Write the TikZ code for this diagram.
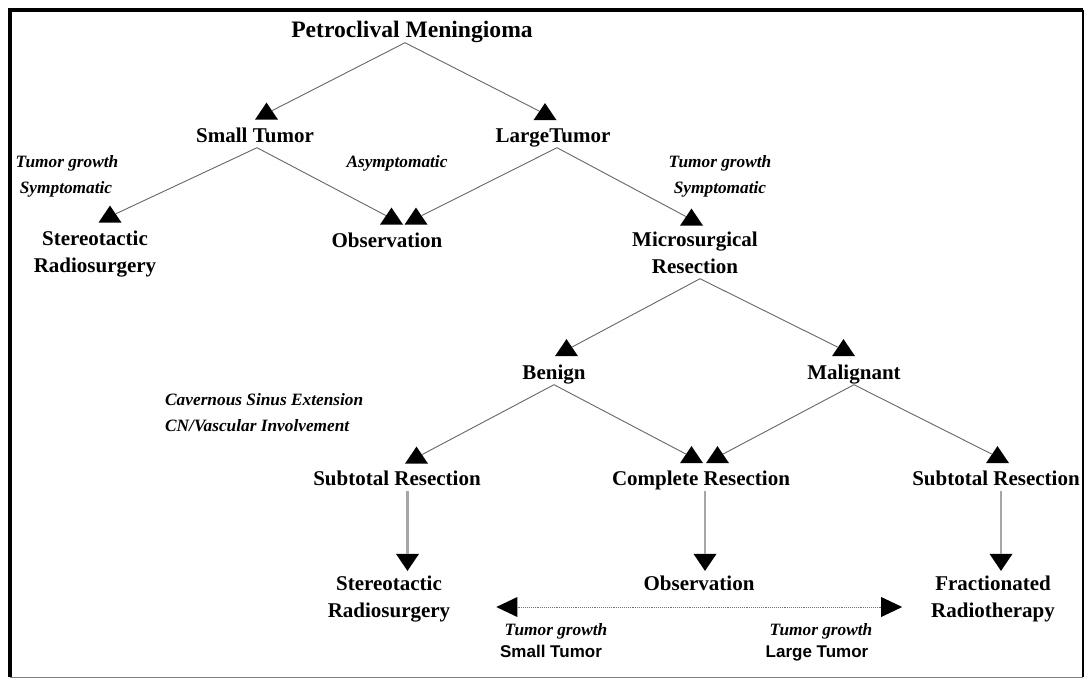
\documentclass[tikz,border=0pt]{standalone}
\usepackage{fontspec}
\setmainfont{Liberation Serif}
\setsansfont{Liberation Sans}
\usetikzlibrary{shapes.geometric}
\begin{document}
\begin{tikzpicture}[x=1pt,y=-1pt,
  box/.style={font=\bfseries\fontsize{21}{27}\selectfont, inner sep=0pt, anchor=base, text depth=5.5pt, align=center},
  title/.style={box, font=\bfseries\fontsize{23.6}{28}\selectfont},
  note/.style={font=\bfseries\itshape\fontsize{17.3}{20}\selectfont, inner sep=0pt, anchor=base},
  snote/.style={font=\sffamily\bfseries\fontsize{17}{20}\selectfont, inner sep=0pt, anchor=base},
  tri/.style={isosceles triangle, isosceles triangle stretches, fill=black, draw=none, inner sep=0pt, minimum width=23pt, minimum height=17pt},
  up/.style={tri, shape border rotate=90},
  dn/.style={tri, shape border rotate=270},
  lt/.style={tri, shape border rotate=180, minimum width=20pt, minimum height=21pt},
  rt/.style={tri, shape border rotate=0, minimum width=20pt, minimum height=21pt},
  con/.style={draw=black!60, line width=0.9pt},
  vcon/.style={draw=black!35, line width=2.6pt},
  hcon/.style={draw=black!55, line width=0.9pt, densely dotted}
]
\useasboundingbox (0,0) rectangle (1085,678);
% frame
\draw[line width=3.5pt] (10,677) -- (10,10) -- (1083,10);
\draw[line width=1.2pt] (1083,10) -- (1083,677);
\draw[black!50, line width=0.8pt] (10,677) -- (1083,677);

% main nodes
\node[title] (petro) at (412,37) {Petroclival Meningioma};
\node[box] (small) at (255,142) {Small Tumor};
\node[box] (large) at (553,142) {LargeTumor};
\node[box] (stereoT) at (95,272) {Stereotactic\\Radiosurgery};
\node[box] (obsT) at (387,247) {Observation};
\node[box] (micro) at (695,273) {Microsurgical\\Resection};
\node[box] (benign) at (554,379) {Benign};
\node[box] (malig) at (854,379) {Malignant};
\node[box] (subL) at (397,485) {Subtotal Resection};
\node[box] (compl) at (701,485) {Complete Resection};
\node[box] (subR) at (996,485) {Subtotal Resection};
\node[box] (stereoB) at (389,617) {Stereotactic\\Radiosurgery};
\node[box] (obsB) at (699,590) {Observation};
\node[box] (frac) at (993,617) {Fractionated\\Radiotherapy};

% notes
\node[note] (n1) at (67,167) {Tumor growth};
\node[note] (n2) at (66,193) {Symptomatic};
\node[note] (n3) at (397,167) {Asymptomatic};
\node[note] (n4) at (720,167) {Tumor growth};
\node[note] (n5) at (720,193) {Symptomatic};
\node[note, anchor=base west] (n6) at (165,405) {Cavernous Sinus Extension};
\node[note, anchor=base west] (n7) at (165,431) {CN/Vascular Involvement};
\node[note] (n8) at (556,635) {Tumor growth};
\node[snote] (n9) at (551,657) {Small Tumor};
\node[note] (n10) at (821,635) {Tumor growth};
\node[snote] (n11) at (817,657) {Large Tumor};

% triangles
\node[up] (tSmall) at (266.5,113.5) {};
\node[up] (tLarge) at (545,114) {};
\node[up] (tStereoT) at (110,216.5) {};
\node[up] (tObs1) at (391.5,218.5) {};
\node[up] (tObs2) at (416,218.5) {};
\node[up] (tMicro) at (691.5,219.5) {};
\node[up] (tBenign) at (566.5,350) {};
\node[up] (tMalig) at (843.5,350) {};
\node[up] (tSubL) at (416.5,457.5) {};
\node[up] (tComp1) at (691.5,457) {};
\node[up] (tComp2) at (717.5,457) {};
\node[up] (tSubR) at (997.5,457) {};
\node[dn] (tStereoB) at (407.5,560) {};
\node[dn] (tObsB) at (705,560) {};
\node[dn] (tFrac) at (1001,560) {};
\node[lt] (tLeft) at (511,607) {};
\node[rt] (tRight) at (887.5,607) {};

% connectors
\draw[con] ([xshift=-7pt]petro.south) -- (tSmall);
\draw[con] ([xshift=-7pt]petro.south) -- (tLarge);
\draw[con] ([xshift=2pt]small.south) -- (tStereoT);
\draw[con] ([xshift=2pt]small.south) -- (tObs1);
\draw[con] ([xshift=4pt]large.south) -- (tObs2);
\draw[con] ([xshift=4pt]large.south) -- (tMicro);
\draw[con] ([xshift=5pt]micro.south) -- (tBenign);
\draw[con] ([xshift=5pt]micro.south) -- (tMalig);
\draw[con] (benign.south) -- (tSubL);
\draw[con] (benign.south) -- (tComp1);
\draw[con] (malig.south) -- (tComp2);
\draw[con] (malig.south) -- (tSubR);
\draw[vcon] (tStereoB |- subL.south) -- (tStereoB);
\draw[vcon] (tObsB |- compl.south) -- (tObsB);
\draw[vcon] (tFrac |- subR.south) -- (tFrac);
\draw[hcon] (tLeft) -- (tRight);
\end{tikzpicture}
\end{document}
